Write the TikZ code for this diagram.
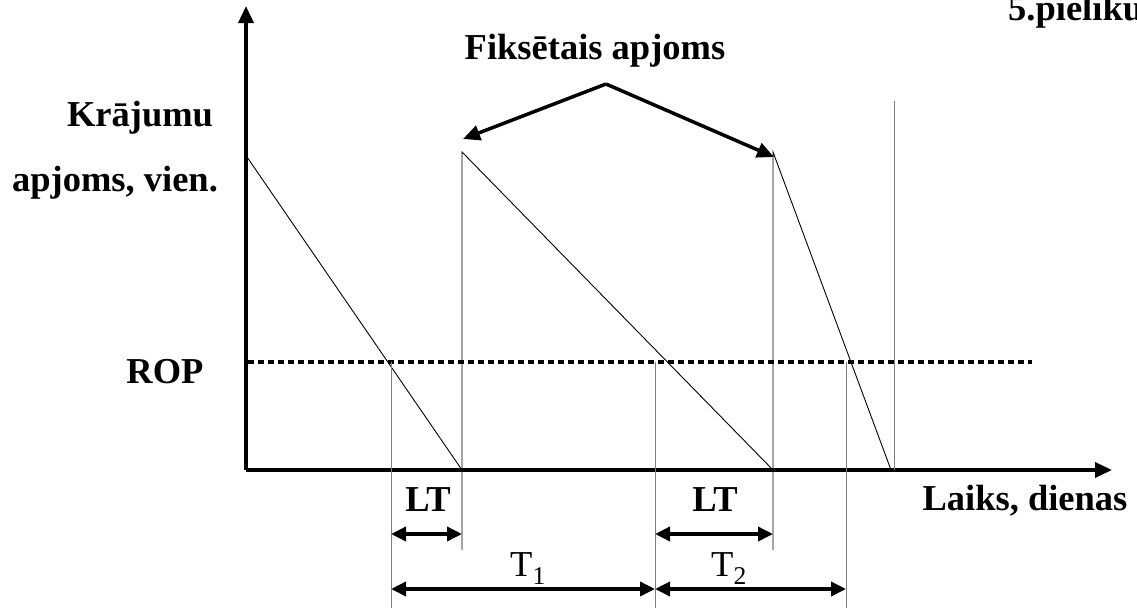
\documentclass[tikz,border=0pt]{standalone}
\usepackage{fontspec}
\setmainfont{Liberation Serif}
\usetikzlibrary{arrows.meta}
\begin{document}
\begin{tikzpicture}[x=1pt,y=-1pt,
  lbl/.style={font=\fontsize{36.5}{40}\selectfont\bfseries, inner sep=0pt},
  lblreg/.style={font=\fontsize{36.5}{40}\selectfont, inner sep=0pt},
  axis/.style={line width=3.5pt, -{Triangle[length=17pt,width=15pt]}},
  dim/.style={line width=3.5pt, {Triangle[length=15pt,width=14pt]}-{Triangle[length=15pt,width=14pt]}},
  pointer/.style={line width=3.5pt, -{Triangle[length=17pt,width=15pt]}},
  stock/.style={line width=0.9pt},
  guide/.style={line width=1pt, draw=gray}]
\clip (0,0) rectangle (1137,608);
\useasboundingbox (0,0) rectangle (1137,608);

% axes
\coordinate (O) at (246,470);
\coordinate (ytop) at (246,6);
\coordinate (xend) at (1112,470);
\draw[axis] (O) -- (ytop);
\draw[axis] (O) -- (xend);

% reorder point level
\coordinate (ropA) at (248,362);
\coordinate (ropB) at (1032,362);
\draw[line width=4pt, dash pattern=on 6pt off 4pt] (ropA) -- (ropB);

% stock level: three replenishment cycles
\coordinate (s1) at (247,157);
\coordinate (e1) at (462,470);
\coordinate (t1) at (462,152);
\coordinate (b1) at (462,550);
\coordinate (e2) at (773,470);
\coordinate (t2) at (773,152);
\coordinate (b2) at (773,550);
\coordinate (e3) at (891,470);
\coordinate (v3t) at (894,101);
\coordinate (v3b) at (894,470);
\draw[stock] (s1) -- (e1);
\draw[stock] (b1) -- (t1) -- (e2);
\draw[stock] (b2) -- (t2) -- (e3);
\draw[guide] (v3t) -- (v3b);

% reorder moments
\coordinate (g1t) at (391,362);
\coordinate (g1b) at (391,608);
\coordinate (g2t) at (655,362);
\coordinate (g2b) at (655,608);
\coordinate (g3t) at (846,362);
\coordinate (g3b) at (846,608);
\draw[guide] (g1t) -- (g1b);
\draw[guide] (g2t) -- (g2b);
\draw[guide] (g3t) -- (g3b);

% lead times and cycle lengths
\coordinate (lt1a) at (391,534);
\coordinate (lt1b) at (462,534);
\coordinate (lt2a) at (655,534);
\coordinate (lt2b) at (773,534);
\coordinate (c1a) at (391,589);
\coordinate (c1b) at (655,589);
\coordinate (c2a) at (655,589);
\coordinate (c2b) at (846,589);
\draw[dim] (lt1a) -- (lt1b);
\draw[dim] (lt2a) -- (lt2b);
\draw[dim] (c1a) -- (c1b);
\draw[dim] (c2a) -- (c2b);

% labels
\node[lbl, anchor=base] (ylab1) at (140,126) {Krājumu};
\node[lbl, anchor=base] (ylab2) at (115,191) {apjoms, vien.};
\node[lbl, anchor=base] (rop) at (165,383) {ROP};
\node[lbl, anchor=base] (xlab) at (1025,510) {Laiks, dienas};
\node[lbl, anchor=base] (ltA) at (428,511) {LT};
\node[lbl, anchor=base] (ltB) at (715,511) {LT};
\node[lblreg, anchor=base] (cyc1) at (528,576) {T\textsubscript{1}};
\node[lblreg, anchor=base] (cyc2) at (729,576) {T\textsubscript{2}};
\node[lbl, anchor=base] (fix) at (595,59) {Fiksētais apjoms};
\node[lbl, anchor=base west] (app) at (1008,20) {5.pielikums};

% pointers from the fixed order quantity label
\coordinate (fp) at (606,84);
\coordinate (fl) at (463,139);
\coordinate (fr) at (774,157);
\draw[pointer] (fp) -- (fl);
\draw[pointer] (fp) -- (fr);
\end{tikzpicture}
\end{document}
